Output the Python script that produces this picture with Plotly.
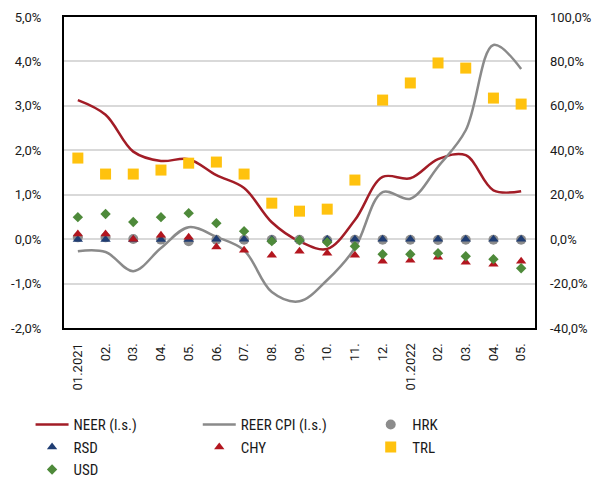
import plotly.graph_objects as go

months = ["01.2021", "02.", "03.", "04.", "05.", "06.", "07.", "08.", "09.", "10.",
          "11.", "12.", "01.2022", "02.", "03.", "04.", "05."]

neer = [3.13, 2.8, 1.97, 1.76, 1.8, 1.44, 1.15, 0.38, -0.05, -0.22, 0.43, 1.4, 1.37, 1.8, 1.89, 1.1, 1.08]
reer_cpi = [-0.27, -0.29, -0.72, -0.2, 0.27, 0.05, -0.25, -1.19, -1.4, -0.92, -0.2, 1.06, 0.91, 1.63, 2.45, 4.37, 3.83]

hrk = [0.8, 0.8, 0.1, -0.2, -0.9, -0.3, -0.3, -0.3, -0.3, -0.5, -0.3, -0.3, -0.3, -0.4, -0.3, -0.3, -0.3]
rsd = [-0.2, -0.2, -0.2, -0.2, -0.2, -0.1, -0.1, -0.2, -0.2, -0.1, -0.1, -0.1, -0.1, -0.1, -0.1, -0.1, -0.1]
chy = [2.3, 2.3, 0.0, 1.8, 0.9, -3.5, -5.0, -7.2, -5.4, -6.3, -7.2, -9.9, -9.5, -8.1, -10.4, -11.3, -9.9]
trl = [36.5, 29.3, 29.3, 31.1, 34.2, 34.7, 29.3, 16.2, 12.6, 13.5, 26.6, 62.6, 70.3, 79.3, 77.0, 63.5, 60.8]
usd = [9.9, 11.3, 7.7, 9.9, 11.7, 7.2, 3.6, -0.9, -0.5, -1.4, -3.2, -6.8, -6.8, -6.3, -7.7, -9.0, -13.1]

left_ticks = [5, 4, 3, 2, 1, 0, -1, -2]
right_ticks = [100, 80, 60, 40, 20, 0, -20, -40]

TICKFONT = "Roboto, sans-serif"
LEGFONT = "Roboto Condensed, Liberation Sans Narrow, Roboto, sans-serif"
TXT = "#1a1a1a"

xi = list(range(len(months)))

fig = go.Figure()
fig.add_trace(go.Scatter(x=xi, y=neer, name="NEER (l.s.)", mode="lines", legend="legend",
                         line=dict(color="#A21C26", width=2.5, shape="spline", smoothing=1)))
fig.add_trace(go.Scatter(x=xi, y=reer_cpi, name="REER CPI (l.s.)", mode="lines", legend="legend2",
                         line=dict(color="#8A8A8A", width=2.5, shape="spline", smoothing=1)))
fig.add_trace(go.Scatter(x=xi, y=hrk, name="HRK", mode="markers", yaxis="y2", legend="legend3",
                         marker=dict(symbol="circle", size=10, color="#8C8C8C")))
fig.add_trace(go.Scatter(x=xi, y=rsd, name="RSD", mode="markers", yaxis="y2", legend="legend",
                         marker=dict(symbol="triangle-up", size=9, color="#1F3D73")))
fig.add_trace(go.Scatter(x=xi, y=chy, name="CHY", mode="markers", yaxis="y2", legend="legend2",
                         marker=dict(symbol="triangle-up", size=9, color="#B3161F")))
fig.add_trace(go.Scatter(x=xi, y=trl, name="TRL", mode="markers", yaxis="y2", legend="legend3",
                         marker=dict(symbol="square", size=11, color="#FFC20E")))
fig.add_trace(go.Scatter(x=xi, y=usd, name="USD", mode="markers", yaxis="y2", legend="legend",
                         marker=dict(symbol="diamond", size=8, color="#4E8A3A")))

leg_common = dict(orientation="v", xanchor="left", y=-0.258, yanchor="top",
                  traceorder="normal", font=dict(family=LEGFONT, size=15, color=TXT),
                  bgcolor="rgba(0,0,0,0)", tracegroupgap=0, itemsizing="trace",
                  itemwidth=33)

fig.update_layout(
    width=595, height=478,
    margin=dict(l=64, r=60, t=17, b=150, autoexpand=False),
    paper_bgcolor="white", plot_bgcolor="white",
    font=dict(family=TICKFONT, size=13, color=TXT),
    showlegend=True,
    legend=dict(x=-0.071, **leg_common),
    legend2=dict(x=0.284, **leg_common),
    legend3=dict(x=0.648, **leg_common),
    xaxis=dict(range=[-0.5, len(months) - 0.5], tickvals=xi, ticktext=months,
               tickangle=-90, showgrid=False, ticks="", zeroline=False,
               showline=True, linecolor="black", linewidth=2, mirror=True,
               tickfont=dict(family=TICKFONT, size=13, color=TXT), ticklabelstandoff=8),
    yaxis=dict(range=[-2, 5], tickvals=left_ticks, ticktext=[f"{v},0%" for v in left_ticks],
               showgrid=True, gridcolor="#D9D9D9", gridwidth=1.5, zeroline=False,
               showline=True, linecolor="black", linewidth=2, mirror=True, ticks="",
               tickfont=dict(family=TICKFONT, size=13, color=TXT), ticklabelstandoff=18),
    yaxis2=dict(range=[-40, 100], overlaying="y", side="right",
                tickvals=right_ticks, ticktext=[f"{v},0%" for v in right_ticks],
                showgrid=False, zeroline=False, ticks="",
                tickfont=dict(family=TICKFONT, size=13, color=TXT), ticklabelstandoff=14),
)

fig.write_html("out.html", config={"displayModeBar": False},
               post_script="document.body.style.margin='0';")
